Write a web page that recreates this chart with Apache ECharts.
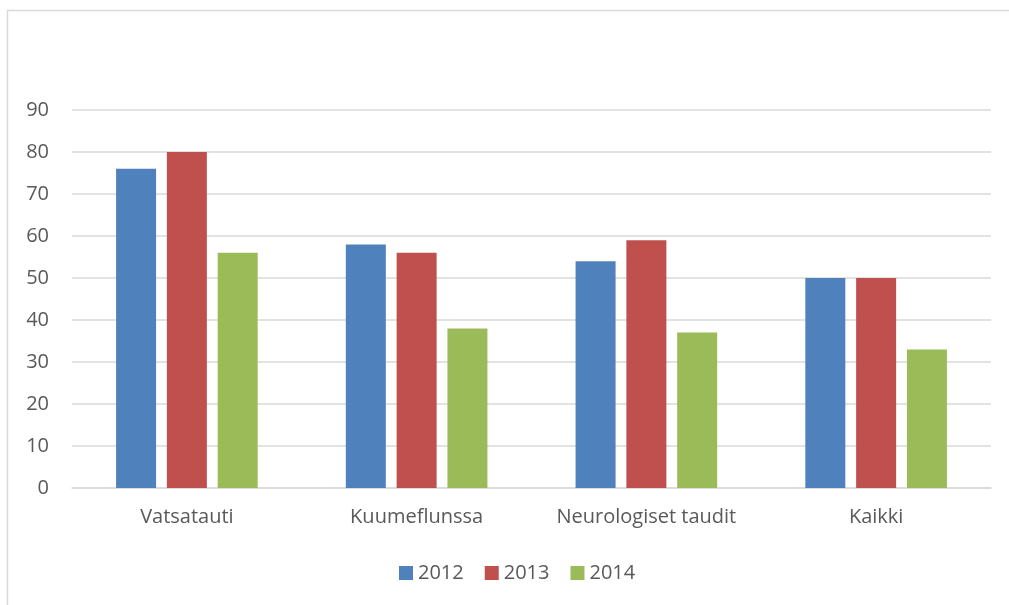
<!DOCTYPE html>
<html><head><meta charset="utf-8">
<script src="https://cdn.jsdelivr.net/npm/echarts@6/dist/echarts.min.js"></script>
<style>html,body{margin:0;padding:0;background:#fff}#c{width:1009px;height:605px}</style>
</head><body><div id="c"></div>
<script>
const categories = ['Vatsatauti', 'Kuumeflunssa', 'Neurologiset taudit', 'Kaikki'];
const seriesNames = ['2012', '2013', '2014'];
const values2012 = [76, 58, 54, 50];
const values2013 = [80, 56, 59, 50];
const values2014 = [56, 38, 37, 33];
const colors = ['#4f81bd', '#c0504d', '#9bbb59'];
const font = '"Open Sans", "Liberation Sans", sans-serif';

const chart = echarts.init(document.getElementById('c'), null, {renderer: 'canvas'});
const data = [values2012, values2013, values2014];
chart.setOption({
  animation: false,
  graphic: [{type: 'rect', shape: {x: 7.5, y: 10.5, width: 1100, height: 700}, style: {fill: 'none', stroke: '#d9d9d9', lineWidth: 1.5}, silent: true}],
  grid: {left: 72, right: 18, top: 110, bottom: 117, containLabel: false},
  legend: {
    data: seriesNames, top: 558, left: 394, itemWidth: 14, itemHeight: 14, itemGap: 21,
    icon: 'rect', textStyle: {color: '#595959', fontSize: 20, fontFamily: font, padding: [0, 0, 0, 0]}
  },
  xAxis: {
    type: 'category', data: categories,
    axisLine: {lineStyle: {color: '#d9d9d9', width: 1.5}}, axisTick: {show: false},
    axisLabel: {color: '#595959', fontSize: 20, fontFamily: font, margin: 19, interval: 0}
  },
  yAxis: {
    type: 'value', min: 0, max: 90, interval: 10,
    axisLine: {show: false}, axisTick: {show: false},
    splitLine: {lineStyle: {color: '#d9d9d9', width: 1.5}},
    axisLabel: {color: '#595959', fontSize: 20, fontFamily: font, margin: 23}
  },
  series: seriesNames.map((n, i) => ({
    name: n, type: 'bar', data: data[i], barWidth: 40, barGap: '27%',
    itemStyle: {color: colors[i]}
  }))
});
</script></body></html>
